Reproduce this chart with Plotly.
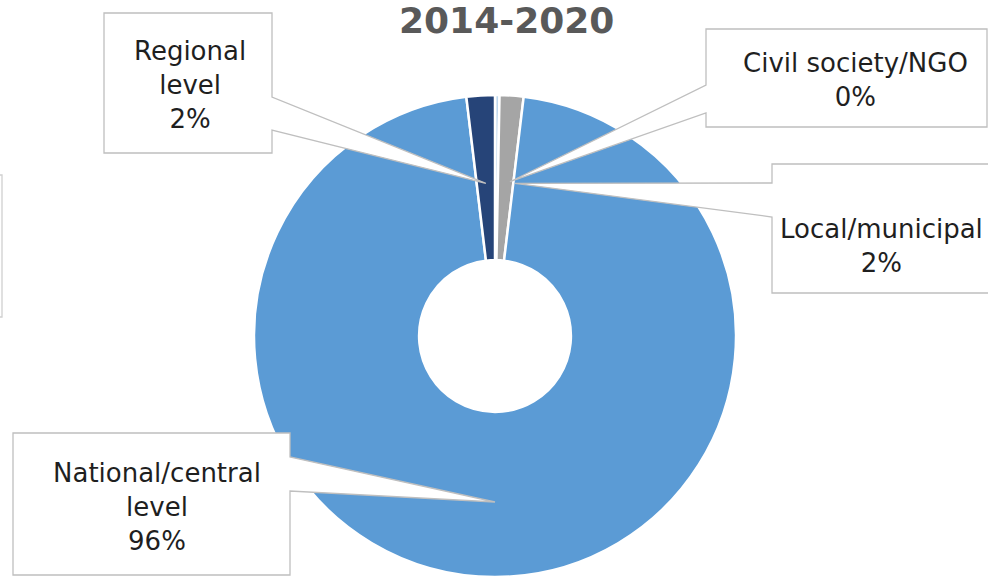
import math
import plotly.graph_objects as go

# Share of funding by implementing level, 2014-2020
labels = ["Civil society/NGO", "Local/municipal", "National/central level", "Regional level"]
values = [0.3, 1.6, 96.2, 1.9]
colors = ["#BDD7EE", "#A5A5A5", "#5B9BD5", "#264478"]
title_text = "2014-2020"

W, H = 988, 577

# pie geometry in pixels (centre and outer radius)
CX, CY, R = 495, 336, 241
HOLE = 0.315


def px(x):
    return x / W


def py(y):
    return 1 - y / H


fig = go.Figure()
fig.add_trace(go.Pie(
    labels=labels,
    values=values,
    sort=False,
    direction="clockwise",
    rotation=0,
    hole=HOLE,
    marker=dict(colors=colors, line=dict(color="#FFFFFF", width=2.5)),
    textinfo="none",
    hoverinfo="label+percent",
    showlegend=False,
    domain=dict(x=[px(CX - R), px(CX + R)], y=[0, py(CY - R)]),
))

total = sum(values)
pct = [v / total * 100 for v in values]

# mid angle (degrees clockwise from 12 o'clock) of every slice
mid_angles = []
acc = 0.0
for v in values:
    mid_angles.append((acc + v / 2) / total * 360)
    acc += v

# callout boxes: rectangle, side the pointer leaves from, pointer base span,
# pointer tip radius and a small angular nudge, and the text line breaks
callouts = {
    "Civil society/NGO": dict(box=(706, 29, 987, 127), side="left", base=(85, 113),
                              r_tip=155, nudge=5.0, lines=["Civil society/NGO"],
                              text_xy=(855, 80)),
    "Local/municipal": dict(box=(772, 164, 1010, 293), side="left", base=(183, 217),
                            r_tip=154, nudge=3.5, lines=["Local/municipal"],
                            text_xy=(881, 246)),
    "National/central level": dict(box=(13, 433, 290, 575), side="right", base=(457, 491),
                                   r_tip=166, nudge=0.0, lines=["National/central", "level"],
                                   text_xy=(157, 507)),
    "Regional level": dict(box=(104, 13, 272, 153), side="right", base=(97, 130),
                           r_tip=153, nudge=0.0, lines=["Regional", "level"],
                           text_xy=(190, 85)),
}

shapes = []
annotations = []
for lab, p, ang in zip(labels, pct, mid_angles):
    c = callouts[lab]
    x0, y0, x1, y1 = c["box"]
    a = math.radians(ang + c["nudge"])
    tx = CX + c["r_tip"] * math.sin(a)
    ty = CY - c["r_tip"] * math.cos(a)
    b0, b1 = c["base"]
    if c["side"] == "right":
        pts = [(x0, y0), (x1, y0), (x1, b0), (tx, ty), (x1, b1), (x1, y1), (x0, y1)]
    else:
        pts = [(x0, y0), (x1, y0), (x1, y1), (x0, y1), (x0, b1), (tx, ty), (x0, b0)]
    path = "M " + " L ".join(f"{px(x):.5f},{py(y):.5f}" for x, y in pts) + " Z"
    shapes.append(dict(type="path", xref="paper", yref="paper", path=path,
                       fillcolor="#FFFFFF", line=dict(color="#BFBFBF", width=1.3),
                       layer="above"))
    text = "<br>".join(c["lines"] + [f"{p:.0f}%"])
    annotations.append(dict(x=px(c["text_xy"][0]), y=py(c["text_xy"][1]),
                            xref="paper", yref="paper", text=text, showarrow=False,
                            xanchor="center", yanchor="middle", align="center",
                            font=dict(family="DejaVu Sans", size=26, color="#1F1F1F")))

# edge of a neighbouring label box at the far left
shapes.append(dict(type="rect", xref="paper", yref="paper",
                   x0=px(-20), x1=px(2), y0=py(175), y1=py(317),
                   fillcolor="#FFFFFF", line=dict(color="#D0D0D0", width=1.3),
                   layer="above"))

annotations.append(dict(x=px(506), y=py(20), xref="paper", yref="paper",
                        text=f"<b>{title_text}</b>", showarrow=False,
                        xanchor="center", yanchor="middle",
                        font=dict(family="DejaVu Sans", size=36, color="#595959")))

fig.update_layout(
    width=W, height=H,
    margin=dict(l=0, r=0, t=0, b=0),
    paper_bgcolor="#FFFFFF",
    plot_bgcolor="#FFFFFF",
    shapes=shapes,
    annotations=annotations,
)

fig.write_html("out.html")
